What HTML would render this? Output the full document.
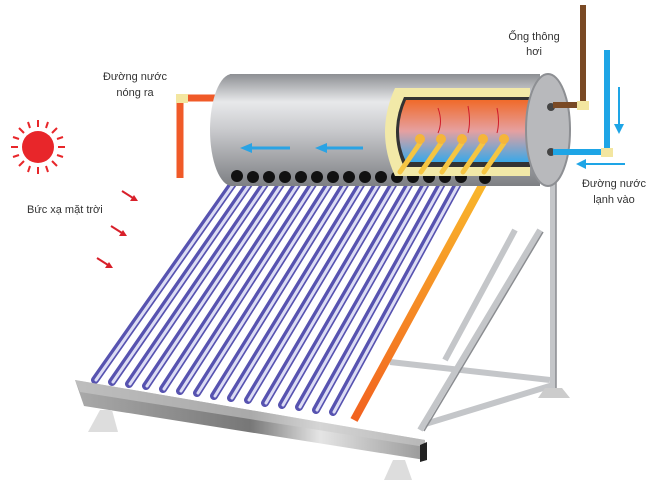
<!DOCTYPE html>
<html><head><meta charset="utf-8"><style>
html,body{margin:0;background:#fff;width:650px;height:489px;overflow:hidden}
svg{display:block}
text{font-family:"Liberation Sans",sans-serif;font-size:11px;fill:#333}
</style></head><body>
<svg width="650" height="489" viewBox="0 0 650 489" xmlns="http://www.w3.org/2000/svg">
<defs>
<linearGradient id="tank" x1="0" y1="0" x2="0" y2="1">
<stop offset="0" stop-color="#8d8f93"/><stop offset="0.25" stop-color="#e8e9eb"/><stop offset="0.5" stop-color="#c9cacd"/><stop offset="1" stop-color="#7d7f83"/></linearGradient>
<linearGradient id="win" x1="0" y1="0" x2="0" y2="1">
<stop offset="0" stop-color="#f06a2a"/><stop offset="0.5" stop-color="#e6a0a0"/><stop offset="1" stop-color="#3aa8e8"/></linearGradient>
<linearGradient id="bar" x1="0" y1="0" x2="1" y2="0">
<stop offset="0" stop-color="#aaa"/><stop offset="0.5" stop-color="#777"/><stop offset="0.7" stop-color="#e5e5e5"/><stop offset="1" stop-color="#999"/></linearGradient>
<linearGradient id="orng" x1="0" y1="0" x2="0" y2="1">
<stop offset="0" stop-color="#f9b82b"/><stop offset="1" stop-color="#f2621f"/></linearGradient>
</defs>
<g stroke="#c4c6c9" stroke-width="6" fill="none">
<line x1="553" y1="180" x2="553" y2="392"/>
<line x1="540" y1="230" x2="420" y2="430"/>
<line x1="390" y1="362" x2="550" y2="380"/>
<line x1="422" y1="425" x2="553" y2="385"/>
<line x1="515" y1="230" x2="445" y2="360"/>
</g>
<g stroke="#8a8c90" stroke-width="1.5" fill="none">
<line x1="556" y1="180" x2="556" y2="392"/>
<line x1="543" y1="232" x2="424" y2="431"/>
</g>
<polygon points="545,388 562,388 570,398 538,398" fill="#ccc"/>
<g stroke="#5753b0" stroke-width="8" stroke-linecap="round">
<line x1="237" y1="178" x2="95" y2="380"/>
<line x1="253" y1="178" x2="112" y2="382"/>
<line x1="269" y1="178" x2="129" y2="384"/>
<line x1="285" y1="178" x2="146" y2="386"/>
<line x1="301" y1="178" x2="163" y2="389"/>
<line x1="317" y1="178" x2="180" y2="391"/>
<line x1="333" y1="178" x2="197" y2="393"/>
<line x1="349" y1="178" x2="214" y2="396"/>
<line x1="365" y1="178" x2="231" y2="398"/>
<line x1="381" y1="178" x2="248" y2="400"/>
<line x1="397" y1="178" x2="265" y2="403"/>
<line x1="413" y1="178" x2="282" y2="405"/>
<line x1="429" y1="178" x2="299" y2="407"/>
<line x1="445" y1="178" x2="316" y2="410"/>
<line x1="461" y1="178" x2="333" y2="412"/>
</g>
<g stroke="#dcdcf4" stroke-width="3" stroke-linecap="round">
<line x1="238" y1="178" x2="96" y2="380"/>
<line x1="254" y1="178" x2="113" y2="382"/>
<line x1="270" y1="178" x2="130" y2="384"/>
<line x1="286" y1="178" x2="147" y2="386"/>
<line x1="302" y1="178" x2="164" y2="389"/>
<line x1="318" y1="178" x2="181" y2="391"/>
<line x1="334" y1="178" x2="198" y2="393"/>
<line x1="350" y1="178" x2="215" y2="396"/>
<line x1="366" y1="178" x2="232" y2="398"/>
<line x1="382" y1="178" x2="249" y2="400"/>
<line x1="398" y1="178" x2="266" y2="403"/>
<line x1="414" y1="178" x2="283" y2="405"/>
<line x1="430" y1="178" x2="300" y2="407"/>
<line x1="446" y1="178" x2="317" y2="410"/>
<line x1="462" y1="178" x2="334" y2="412"/>
</g>
<line x1="485" y1="180" x2="354" y2="420" stroke="url(#orng)" stroke-width="8"/>
<polygon points="75,380 425,440 425,460 84,406" fill="url(#bar)"/>
<polygon points="75,380 425,440 425,447 80,392" fill="#ccc" opacity="0.6"/>
<polygon points="420,445 427,442 427,460 420,462" fill="#222"/>
<polygon points="100,410 112,410 118,432 88,432" fill="#ddd"/>
<polygon points="393,460 405,460 412,480 384,480" fill="#ddd"/>
<path d="M180,178 V98 H222" stroke="#f05a28" stroke-width="7" fill="none"/>
<rect x="176" y="94" width="12" height="9" fill="#f3e6a0"/>
<rect x="230" y="74" width="310" height="112" fill="url(#tank)"/>
<ellipse cx="232" cy="130" rx="22" ry="56" fill="url(#tank)"/>
<g fill="#111"><circle cx="237" cy="176" r="6"/><circle cx="253" cy="177" r="6"/><circle cx="269" cy="177" r="6"/><circle cx="285" cy="177" r="6"/><circle cx="301" cy="177" r="6"/><circle cx="317" cy="177" r="6"/><circle cx="333" cy="177" r="6"/><circle cx="349" cy="177" r="6"/><circle cx="365" cy="177" r="6"/><circle cx="381" cy="177" r="6"/><circle cx="397" cy="177" r="6"/><circle cx="413" cy="177" r="6"/><circle cx="429" cy="177" r="6"/><circle cx="445" cy="177" r="6"/><circle cx="461" cy="177" r="6"/><circle cx="485" cy="178" r="6"/></g>
<path d="M395,88 H530 V176 H395 Q375,132 395,88Z" fill="#f2e9a8"/>
<path d="M404,97 H530 V167 H404 Q388,132 404,97Z" fill="#333"/>
<path d="M406,100 H530 V162 H406 Q392,132 406,100Z" fill="url(#win)"/>
<g stroke="#f5c542" stroke-width="5" stroke-linecap="round">
<line x1="420" y1="143" x2="400" y2="172"/><line x1="441" y1="143" x2="421" y2="172"/><line x1="462" y1="143" x2="442" y2="172"/><line x1="483" y1="143" x2="463" y2="172"/><line x1="504" y1="143" x2="484" y2="172"/>
</g>
<g fill="#f5b53a"><circle cx="420" cy="139" r="5"/><circle cx="441" cy="139" r="5"/><circle cx="462" cy="139" r="5"/><circle cx="483" cy="139" r="5"/><circle cx="504" cy="139" r="5"/></g>
<g stroke="#d01c2a" stroke-width="1" fill="none"><path d="M438,133 Q443,122 438,108"/><path d="M468,133 Q471,122 468,106"/><path d="M497,133 Q500,122 497,108"/></g>
<ellipse cx="548" cy="130" rx="22" ry="56" fill="#b8b9bc" stroke="#8d8f93" stroke-width="2"/>
<circle cx="551" cy="107" r="4" fill="#444"/><circle cx="551" cy="152" r="4" fill="#444"/>
<g stroke="#2aa3e4" stroke-width="3">
<line x1="250" y1="148" x2="290" y2="148"/>
<line x1="325" y1="148" x2="363" y2="148"/>
</g>
<g fill="#2aa3e4"><polygon points="240,148 252,143 252,153"/><polygon points="315,148 327,143 327,153"/></g>
<path d="M583,5 V105 H553" stroke="#7a4a25" stroke-width="6" fill="none"/>
<rect x="577" y="101" width="12" height="9" fill="#f3e6a0"/>
<path d="M607,50 V152 H553" stroke="#1ea5e6" stroke-width="6" fill="none"/>
<rect x="601" y="148" width="12" height="9" fill="#f3e6a0"/>
<line x1="619" y1="87" x2="619" y2="125" stroke="#1ea5e6" stroke-width="2"/>
<polygon points="619,134 614,124 624,124" fill="#1ea5e6"/>
<line x1="585" y1="164" x2="625" y2="164" stroke="#1ea5e6" stroke-width="2"/>
<polygon points="576,164 586,159 586,169" fill="#1ea5e6"/>
<circle cx="38" cy="147" r="16" fill="#e8262a"/>
<g stroke="#e8262a" stroke-width="2">
<line x1="38" y1="120" x2="38" y2="127"/><line x1="38" y1="167" x2="38" y2="174"/>
<line x1="11" y1="147" x2="18" y2="147"/><line x1="58" y1="147" x2="65" y2="147"/>
<line x1="19" y1="128" x2="24" y2="133"/><line x1="52" y1="161" x2="57" y2="166"/>
<line x1="57" y1="128" x2="52" y2="133"/><line x1="24" y1="161" x2="19" y2="166"/>
<line x1="28" y1="122" x2="30" y2="128"/><line x1="48" y1="122" x2="46" y2="128"/>
<line x1="28" y1="172" x2="30" y2="166"/><line x1="48" y1="172" x2="46" y2="166"/>
<line x1="13" y1="137" x2="19" y2="139"/><line x1="63" y1="137" x2="57" y2="139"/>
<line x1="13" y1="157" x2="19" y2="155"/><line x1="63" y1="157" x2="57" y2="155"/>
</g>
<g stroke="#d8202a" stroke-width="2">
<line x1="122" y1="191" x2="133" y2="198"/><line x1="111" y1="226" x2="122" y2="233"/><line x1="97" y1="258" x2="108" y2="265"/>
</g>
<g fill="#d8202a"><polygon points="138,201 130,201 134,195"/><polygon points="127,236 119,236 123,230"/><polygon points="113,268 105,268 109,262"/></g>
<text x="135" y="80" text-anchor="middle">Đường nước</text>
<text x="135" y="96" text-anchor="middle">nóng ra</text>
<text x="27" y="213">Bức xạ mặt trời</text>
<text x="534" y="40" text-anchor="middle">Ống thông</text>
<text x="534" y="55" text-anchor="middle">hơi</text>
<text x="614" y="187" text-anchor="middle">Đường nước</text>
<text x="614" y="203" text-anchor="middle">lạnh vào</text>
</svg>
</body></html>
